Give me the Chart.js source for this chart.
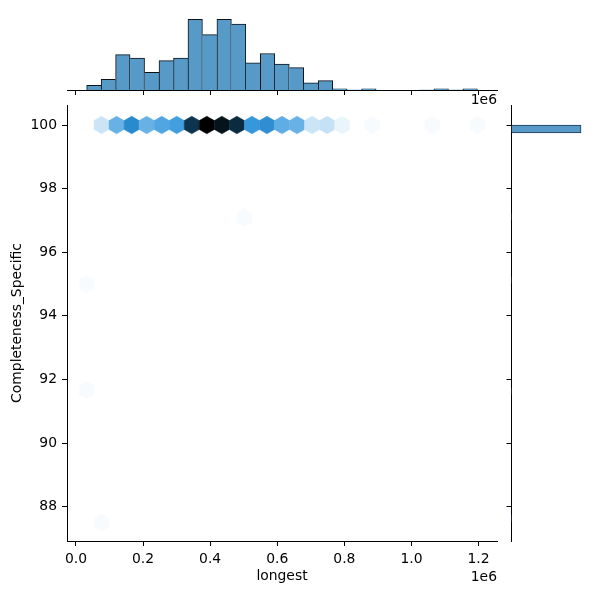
<!DOCTYPE html>
<html>
<head>
<meta charset="utf-8">
<script src="https://cdn.jsdelivr.net/npm/chart.js@4.4.1/dist/chart.umd.min.js"></script>
<style>
  html, body { margin: 0; padding: 0; background: #fff; }
  #wrap { position: relative; width: 600px; height: 600px; }
  #wrap canvas { position: absolute; left: 0; top: 0; }
</style>
</head>
<body>
<div id="wrap">
  <canvas id="top" width="600" height="600"></canvas>
  <canvas id="main" width="600" height="600"></canvas>
  <canvas id="side" width="600" height="600"></canvas>
</div>
<script>
// axis limits / ticks
const xMin = -26700, xMax = 1255000;
const yMin = 86.92, yMax = 100.63;
const xTicks = [0, 200000, 400000, 600000, 800000, 1000000, 1200000];
const yTicks = [88, 90, 92, 94, 96, 98, 100];

// top marginal: histogram of "longest"
const histCenters = [53500, 96600, 139700, 182900, 226000, 269100, 312300, 355400, 398500,
  441700, 484800, 527900, 571100, 614200, 657300, 700500, 743600, 786700, 829900,
  873000, 916100, 959300, 1002400, 1045500, 1088700, 1131800, 1174900];
const histCounts = [4, 9, 30, 27, 15, 25, 27, 60, 47, 60, 56, 23, 31, 22, 19, 6, 8, 1, 0, 1, 0, 0, 0, 0, 1, 0, 1];

// right marginal: histogram of Completeness_Specific
const yHistCenters = [87.625, 91.625, 95.125, 97.125, 99.625, 99.875];
const yHistCounts = [1, 1, 1, 1, 0, 468];

// hexbin cells (centres + counts)
const hexX = [76300, 121100, 166000, 210800, 255600, 300400, 345200, 390000, 434900, 479700,
  524500, 569300, 614100, 659000, 703800, 748600, 793400, 883000, 1062300, 1196800,
  31500, 31500, 76300, 502100];
const hexY = [100, 100, 100, 100, 100, 100, 100, 100, 100, 100,
  100, 100, 100, 100, 100, 100, 100, 100, 100, 100,
  95.0, 91.667, 87.5, 97.083];
const hexCounts = [7, 21, 31, 21, 24, 26, 49, 60, 56, 51, 28, 30, 22, 21, 7, 8, 3, 1, 1, 1, 1, 1, 1, 1];
const hexCellX = 44810;   // hexbin cell width (x units)
const hexCellY = 0.8333;  // hexbin cell pitch (y units)

const barFill = 'rgba(87, 153, 199, 1)';
const barEdge = '#0b1218';
const font = { family: 'DejaVu Sans', size: 13.9 };
Chart.defaults.font.family = 'DejaVu Sans';
Chart.defaults.color = '#000';

// seaborn jointplot hex colormap: C0 with lightness going 1 -> 0
function hlsToRgb(h, l, s) {
  if (s === 0) return [l, l, l];
  const m2 = l <= 0.5 ? l * (1 + s) : l + s - l * s;
  const m1 = 2 * l - m2;
  const v = (hue) => {
    hue = ((hue % 1) + 1) % 1;
    if (hue < 1 / 6) return m1 + (m2 - m1) * hue * 6;
    if (hue < 0.5) return m2;
    if (hue < 2 / 3) return m1 + (m2 - m1) * (2 / 3 - hue) * 6;
    return m1;
  };
  return [v(h + 1 / 3), v(h), v(h - 1 / 3)];
}
const nodes = [];
for (let k = 0; k < 12; k++) nodes.push(hlsToRgb(0.5682, 1 - k / 11, 0.7061));
function hexColor(t) {
  const p = Math.min(Math.max(t, 0), 1) * 11;
  const k = Math.min(Math.floor(p), 10), f = p - k;
  const c = nodes[k].map((a, j) => Math.round(255 * (a + (nodes[k + 1][j] - a) * f)));
  return `rgb(${c[0]},${c[1]},${c[2]})`;
}

const setX = s => { s.ticks = xTicks.map(v => ({ value: v })); };
const setY = s => { s.ticks = yTicks.map(v => ({ value: v })); };
const axisGrid = { drawOnChartArea: false, color: '#000', tickLength: 5, tickWidth: 1, offset: false };
const axisBorder = { color: '#000', width: 1 };

const hexPlugin = {
  id: 'hexCells',
  afterDatasetsDraw(chart) {
    const ctx = chart.ctx, xs = chart.scales.x, ys = chart.scales.y;
    const maxC = Math.max(...hexCounts);
    ctx.save();
    chart.getDatasetMeta(0).data.forEach((pt, i) => {
      const w = xs.getPixelForValue(hexX[i] + hexCellX / 2) - pt.x;
      const h = ys.getPixelForValue(hexY[i]) - ys.getPixelForValue(hexY[i] + hexCellY / 3);
      ctx.beginPath();
      ctx.moveTo(pt.x + w, pt.y - h / 2);
      ctx.lineTo(pt.x + w, pt.y + h / 2);
      ctx.lineTo(pt.x, pt.y + h);
      ctx.lineTo(pt.x - w, pt.y + h / 2);
      ctx.lineTo(pt.x - w, pt.y - h / 2);
      ctx.lineTo(pt.x, pt.y - h);
      ctx.closePath();
      const col = hexColor(hexCounts[i] / maxC);
      ctx.fillStyle = col;
      ctx.strokeStyle = col;
      ctx.lineWidth = 0.5;
      ctx.fill();
      ctx.stroke();
    });
    ctx.restore();
  }
};

function offsetText(y) {
  return {
    id: 'offsetText',
    afterDraw(chart) {
      const ctx = chart.ctx;
      ctx.save();
      ctx.font = '13.9px "DejaVu Sans"';
      ctx.fillStyle = '#000';
      ctx.textAlign = 'right';
      ctx.textBaseline = 'middle';
      ctx.fillText('1e6', chart.chartArea.right, y);
      ctx.restore();
    }
  };
}

// main hexbin panel
new Chart(document.getElementById('main'), {
  type: 'scatter',
  data: {
    datasets: [{
      data: hexX.map((x, i) => ({ x: x, y: hexY[i] })),
      pointRadius: 0,
      pointHoverRadius: 0
    }]
  },
  options: {
    responsive: false, animation: false, devicePixelRatio: 1,
    layout: { padding: { left: 0, top: 105, right: 103, bottom: 0 } },
    plugins: { legend: { display: false }, tooltip: { enabled: false } },
    scales: {
      x: {
        type: 'linear', min: xMin, max: xMax, offset: false,
        afterBuildTicks: setX,
        afterFit: s => { s.height = 59; },
        ticks: { callback: v => (v / 1e6).toFixed(1), color: '#000', font: font, padding: 5, maxRotation: 0, autoSkip: false },
        grid: axisGrid, border: axisBorder,
        title: { display: true, text: 'longest', color: '#000', font: font, padding: { top: 0, bottom: 15 } }
      },
      y: {
        type: 'linear', min: yMin, max: yMax, offset: false,
        afterBuildTicks: setY,
        afterFit: s => { s.width = 67; },
        ticks: { callback: v => String(v), color: '#000', font: font, padding: 5, autoSkip: false },
        grid: axisGrid, border: axisBorder,
        title: { display: true, text: 'Completeness_Specific', color: '#000', font: font, padding: { top: 9, bottom: 0 } }
      }
    }
  },
  plugins: [hexPlugin, offsetText(577)]
});

// top marginal histogram
new Chart(document.getElementById('top'), {
  type: 'bar',
  data: {
    datasets: [{
      data: histCenters.map((x, i) => ({ x: x, y: histCounts[i] })),
      backgroundColor: barFill,
      borderColor: barEdge,
      borderWidth: c => {
        const i = c.dataIndex, v = histCounts[i];
        return {
          top: 1, bottom: 0,
          left: (i === 0 || histCounts[i - 1] < v) ? 1 : 0,
          right: (i === histCounts.length - 1 || histCounts[i + 1] <= v) ? 1 : 0
        };
      },
      barPercentage: 1, categoryPercentage: 1
    }]
  },
  options: {
    responsive: false, animation: false, devicePixelRatio: 1,
    layout: { padding: { left: 67, top: 15.8, right: 103, bottom: 0 } },
    plugins: { legend: { display: false }, tooltip: { enabled: false } },
    scales: {
      x: {
        type: 'linear', min: xMin, max: xMax, offset: false,
        afterBuildTicks: setX,
        afterFit: s => { s.height = 510; },
        ticks: { display: false },
        grid: axisGrid, border: axisBorder
      },
      y: { type: 'linear', display: false, min: 0, max: 63 }
    }
  },
  plugins: [offsetText(100)]
});

// right marginal histogram
new Chart(document.getElementById('side'), {
  type: 'bar',
  data: {
    datasets: [{
      data: yHistCenters.map((y, i) => ({ x: yHistCounts[i], y: y })),
      backgroundColor: barFill,
      borderColor: '#1f3a50',
      borderWidth: 1,
      barPercentage: 1, categoryPercentage: 1
    }]
  },
  options: {
    indexAxis: 'y',
    responsive: false, animation: false, devicePixelRatio: 1,
    layout: { padding: { left: 0, top: 105, right: 15.5, bottom: 59 } },
    plugins: { legend: { display: false }, tooltip: { enabled: false } },
    scales: {
      x: { type: 'linear', display: false, min: 0, max: 491.4 },
      y: {
        type: 'linear', min: yMin, max: yMax, offset: false,
        afterBuildTicks: setY,
        afterFit: s => { s.width = 511.5; },
        ticks: { display: false },
        grid: axisGrid, border: axisBorder
      }
    }
  }
});
</script>
</body>
</html>
